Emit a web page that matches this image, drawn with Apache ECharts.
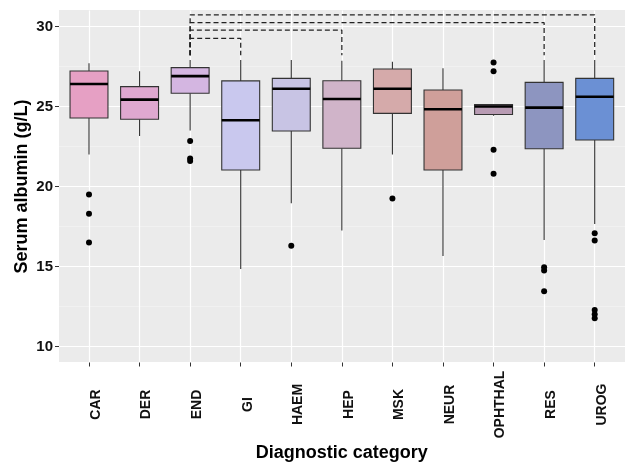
<!DOCTYPE html>
<html>
<head>
<meta charset="utf-8">
<script src="https://cdn.jsdelivr.net/npm/echarts@6/dist/echarts.min.js"></script>
<style>
  html, body { margin: 0; padding: 0; background: #fff; }
  #chart { width: 628px; height: 465px; }
</style>
</head>
<body>
<div id="chart"></div>
<script>
// categories and box statistics (g/L)
const categories = ['CAR', 'DER', 'END', 'GI', 'HAEM', 'HEP', 'MSK', 'NEUR', 'OPHTHAL', 'RES', 'UROG'];
const whiskerLow = [22.0, 23.15, 23.5, 14.85, 18.95, 17.25, 22.0, 15.65, 24.42, 16.65, 17.65];
const q1 = [24.28, 24.2, 25.83, 21.03, 23.47, 22.39, 24.57, 21.03, 24.5, 22.36, 22.91];
const median = [26.41, 25.43, 26.9, 24.14, 26.11, 25.47, 26.11, 24.83, 25.0, 24.93, 25.61];
const q3 = [27.22, 26.24, 27.43, 26.6, 26.76, 26.61, 27.34, 26.03, 25.12, 26.51, 26.76];
const whiskerHigh = [27.7, 27.2, 27.9, 27.9, 27.9, 27.86, 27.8, 27.39, 25.12, 27.9, 27.9];
const boxColors = ['#E6A0C4', '#DFA8D0', '#D4B6E1', '#C9C8EE', '#C8C4E4', '#D0B4C9',
                   '#D5AAAA', '#CF9F9A', '#B89BB3', '#8D95C0', '#6B90D4'];

// outliers: [category, value]
const outliers = [
  ['CAR', 19.5], ['CAR', 18.3], ['CAR', 16.5],
  ['END', 22.85], ['END', 21.75], ['END', 21.6],
  ['HAEM', 16.3],
  ['MSK', 19.25],
  ['OPHTHAL', 27.75], ['OPHTHAL', 27.2], ['OPHTHAL', 22.3], ['OPHTHAL', 20.8],
  ['RES', 14.95], ['RES', 14.75], ['RES', 13.45],
  ['UROG', 17.08], ['UROG', 16.62], ['UROG', 12.28], ['UROG', 12.02], ['UROG', 11.76]
];

// significance brackets from END
const bracketFrom = 'END';
const bracketTo = ['GI', 'HEP', 'RES', 'UROG'];
const bracketLevel = [29.26, 29.78, 30.24, 30.72];
const bracketFoot = 28.2;

const yTicks = { min: 10, max: 30, step: 5 };

const font = 'Liberation Sans, Arial, sans-serif';
const myChart = echarts.init(document.getElementById('chart'));

const boxData = categories.map((c, i) => [i, whiskerLow[i], q1[i], median[i], q3[i], whiskerHigh[i]]);

function renderBox(params, api) {
  const i = api.value(0);
  const x = api.coord([i, 0])[0];
  const w = api.size([1, 0])[0] * 0.75;
  const yLow = api.coord([i, api.value(1)])[1];
  const yQ1 = api.coord([i, api.value(2)])[1];
  const yMed = api.coord([i, api.value(3)])[1];
  const yQ3 = api.coord([i, api.value(4)])[1];
  const yHigh = api.coord([i, api.value(5)])[1];
  const lineStyle = { stroke: '#333', lineWidth: 1.1 };
  return {
    type: 'group',
    children: [
      { type: 'line', shape: { x1: x, y1: yHigh, x2: x, y2: yQ3 }, style: lineStyle },
      { type: 'line', shape: { x1: x, y1: yQ1, x2: x, y2: yLow }, style: lineStyle },
      { type: 'rect', shape: { x: x - w / 2, y: yQ3, width: w, height: yQ1 - yQ3 },
        style: { fill: boxColors[params.dataIndex], stroke: '#333', lineWidth: 1.1 } },
      { type: 'line', shape: { x1: x - w / 2, y1: yMed, x2: x + w / 2, y2: yMed },
        style: { stroke: '#000', lineWidth: 2.6 } }
    ]
  };
}

const bracketSeries = bracketTo.map((to, k) => ({
  type: 'line',
  xAxisIndex: 1,
  yAxisIndex: 1,
  clip: false,
  silent: true,
  symbol: 'none',
  lineStyle: { color: '#222', width: 1.25, type: [5, 3] },
  data: [
    [categories.indexOf(bracketFrom), bracketFoot],
    [categories.indexOf(bracketFrom), bracketLevel[k]],
    [categories.indexOf(to), bracketLevel[k]],
    [categories.indexOf(to), bracketFoot]
  ],
  z: 3
}));

const option = {
  animation: false,
  backgroundColor: '#fff',
  grid: [
    // panel background
    { left: 59, right: 3, top: 10, bottom: 103, show: true, backgroundColor: '#EBEBEB', borderWidth: 0,
      outerBoundsMode: 'none' },
    // category band (ggplot keeps 0.6 of a band on each side), y 9..31
    { left: 89, right: 33.3, top: 10.5, bottom: 102.5, outerBoundsMode: 'none' },
    // y scale 10..30
    { left: 59, right: 3, top: 26.5, bottom: 118.5, outerBoundsMode: 'none' }
  ],
  xAxis: [
    { gridIndex: 0, type: 'value', show: false },
    {
      gridIndex: 1,
      type: 'category',
      data: categories,
      boundaryGap: false,
      axisLine: { show: false },
      axisTick: { show: true, length: 4, lineStyle: { color: '#333', width: 1 } },
      splitLine: { show: true, lineStyle: { color: '#fff', width: 1.2 } },
      axisLabel: {
        rotate: 90,
        align: 'center',
        verticalAlign: 'top',
        margin: 42,
        color: '#111',
        fontSize: 14,
        fontWeight: 'bold',
        fontFamily: font
      },
      name: 'Diagnostic category',
      nameLocation: 'middle',
      nameGap: 82,
      nameMoveOverlap: false,
      nameTextStyle: { color: '#000', fontSize: 18, fontWeight: 'bold', fontFamily: font,
                       verticalAlign: 'top' }
    },
    { gridIndex: 2, type: 'value', show: false }
  ],
  yAxis: [
    { gridIndex: 0, type: 'value', show: false },
    { gridIndex: 1, type: 'value', min: 9, max: 31, interval: 1, show: false },
    {
      gridIndex: 2,
      type: 'value',
      min: yTicks.min,
      max: yTicks.max,
      interval: yTicks.step,
      axisLine: { show: false },
      axisTick: { show: true, length: 4, lineStyle: { color: '#333', width: 1 } },
      splitLine: { show: true, lineStyle: { color: '#fff', width: 1.2 } },
      minorTick: { show: false, splitNumber: 2 },
      minorSplitLine: { show: true, lineStyle: { color: '#F5F5F5', width: 0.6 } },
      axisLabel: { color: '#111', fontSize: 15, fontWeight: 'bold', fontFamily: font, margin: 6 },
      name: 'Serum albumin (g/L)',
      nameLocation: 'middle',
      nameRotate: 90,
      nameGap: 28,
      nameMoveOverlap: false,
      nameTextStyle: { color: '#000', fontSize: 18, fontWeight: 'bold', fontFamily: font }
    }
  ],
  series: [
    {
      type: 'custom',
      xAxisIndex: 1,
      yAxisIndex: 1,
      clip: false,
      renderItem: renderBox,
      encode: { x: 0, y: [1, 2, 3, 4, 5] },
      data: boxData,
      z: 2
    },
    {
      type: 'scatter',
      xAxisIndex: 1,
      yAxisIndex: 1,
      clip: false,
      symbolSize: 6,
      itemStyle: { color: '#000', opacity: 1 },
      data: outliers.map(d => [categories.indexOf(d[0]), d[1]]),
      z: 4
    }
  ].concat(bracketSeries)
};

myChart.setOption(option);
</script>
</body>
</html>
